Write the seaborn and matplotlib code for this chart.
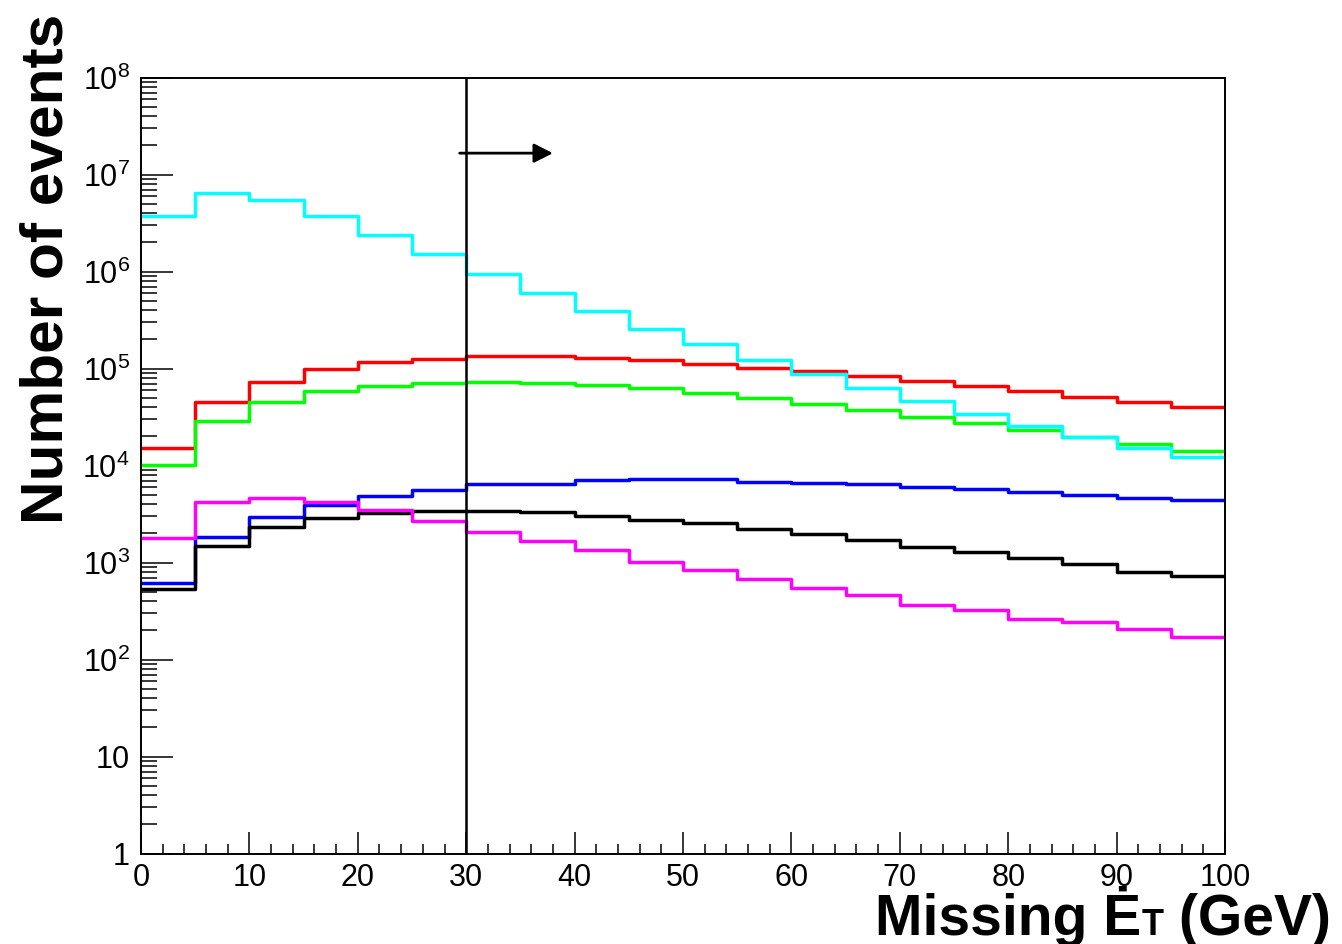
import numpy as np
import pandas as pd
import matplotlib
matplotlib.use("Agg")
import matplotlib.pyplot as plt
from matplotlib.ticker import LogLocator, MultipleLocator, FuncFormatter, NullFormatter
from matplotlib.offsetbox import TextArea, HPacker, AnchoredOffsetbox
import seaborn as sns

# Missing transverse energy binning (GeV)
bin_width = 5
met_min, met_max = 0, 100
met_cut = 30
arrow_start = 29.4
arrow_end = 38.0
arrow_level = 1.66e7

# Event counts per 5 GeV bin for each sample
cyan_counts = [3.7e6, 6.5e6, 5.4e6, 3.7e6, 2.4e6, 1.5e6, 9.5e5, 6.0e5, 3.9e5, 2.58e5,
               1.77e5, 1.22e5, 8.7e4, 6.3e4, 4.6e4, 3.4e4, 2.57e4, 1.96e4, 1.53e4, 1.21e4]
red_counts = [1.53e4, 4.5e4, 7.3e4, 9.8e4, 1.16e5, 1.26e5, 1.34e5, 1.34e5, 1.29e5, 1.21e5,
              1.12e5, 1.02e5, 9.4e4, 8.3e4, 7.4e4, 6.6e4, 5.8e4, 5.1e4, 4.5e4, 4.0e4]
green_counts = [1.02e4, 2.9e4, 4.5e4, 5.8e4, 6.6e4, 7.1e4, 7.3e4, 7.1e4, 6.7e4, 6.3e4,
                5.6e4, 5.0e4, 4.35e4, 3.75e4, 3.2e4, 2.73e4, 2.35e4, 1.97e4, 1.66e4, 1.42e4]
blue_counts = [622, 1.85e3, 2.98e3, 3.94e3, 4.87e3, 5.57e3, 6.37e3, 6.5e3, 7.1e3, 7.25e3,
               7.3e3, 6.8e3, 6.6e3, 6.4e3, 6.0e3, 5.7e3, 5.3e3, 5.0e3, 4.6e3, 4.4e3]
black_counts = [531, 1.48e3, 2.35e3, 2.86e3, 3.27e3, 3.41e3, 3.39e3, 3.31e3, 3.0e3, 2.77e3,
                2.57e3, 2.21e3, 1.96e3, 1.71e3, 1.45e3, 1.28e3, 1.12e3, 957, 789, 729]
magenta_counts = [1.78e3, 4.2e3, 4.6e3, 4.2e3, 3.44e3, 2.7e3, 2.06e3, 1.65e3, 1.33e3, 1.02e3,
                  828, 668, 549, 457, 368, 326, 263, 243, 207, 169]

x_tick_values = list(range(0, 101, 10))

sns.set_theme(style="ticks")
plt.rcParams["font.family"] = ["Liberation Sans", "DejaVu Sans"]
plt.rcParams["mathtext.fontset"] = "custom"
plt.rcParams["mathtext.rm"] = "Liberation Sans"
plt.rcParams["mathtext.bf"] = "Liberation Sans:bold"
for key in ["text.color", "axes.labelcolor", "xtick.color", "ytick.color", "axes.edgecolor"]:
    plt.rcParams[key] = "black"

W, H = 1342, 944
fig = plt.figure(figsize=(W / 100, H / 100), dpi=100)
fig.patch.set_facecolor("white")
ax = fig.add_axes([141 / W, 1 - 853.5 / H, 1084 / W, 776 / H])
ax.set_facecolor("white")

centers = np.arange(met_min, met_max, bin_width) + bin_width / 2
series = [
    (red_counts, "#ff0000"),
    (green_counts, "#00ff00"),
    (blue_counts, "#0000ff"),
    (black_counts, "#000000"),
    (magenta_counts, "#ff00ff"),
    (cyan_counts, "#00ffff"),
]
for counts, color in series:
    frame = pd.DataFrame({"met": centers, "events": counts})
    sns.histplot(data=frame, x="met", weights="events", binwidth=bin_width,
                 binrange=(met_min, met_max), element="step", fill=False,
                 color=color, linewidth=2.5, ax=ax)

ax.set_yscale("log")
ax.set_xlim(met_min, met_max)
ax.set_ylim(1, 1e8)

# Cut line and arrow marking the selected region
ax.axvline(met_cut, color="black", linewidth=1.8, zorder=5)
ax.annotate("", xy=(arrow_end, arrow_level), xytext=(arrow_start, arrow_level),
            arrowprops=dict(arrowstyle="-|>,head_length=1.15,head_width=0.58",
                            color="black", lw=2.0, shrinkA=0, shrinkB=0,
                            mutation_scale=10), zorder=6)

# Axis ticks
ax.set_xticks(x_tick_values)
ax.set_xticklabels([str(v) for v in x_tick_values])
ax.xaxis.set_minor_locator(MultipleLocator(2))
ax.yaxis.set_major_locator(LogLocator(base=10, numticks=20))
ax.yaxis.set_minor_locator(LogLocator(base=10, subs=np.arange(2, 10), numticks=200))
ax.yaxis.set_minor_formatter(NullFormatter())


def decade_label(v, pos):
    e = int(round(np.log10(v)))
    if e == 0:
        return "1"
    if e == 1:
        return "10"
    return r"$\mathregular{10^{%d}}$" % e


ax.yaxis.set_major_formatter(FuncFormatter(decade_label))

ax.tick_params(axis="both", which="both", direction="in", top=False, right=False,
               colors="black", labelcolor="black", labelsize=22, width=1.1)
ax.tick_params(axis="y", which="major", length=23, pad=8)
ax.tick_params(axis="y", which="minor", length=11.5)
ax.tick_params(axis="x", which="major", length=16, pad=6.5)
ax.tick_params(axis="x", which="minor", length=7.5)

for side in ["left", "right", "top", "bottom"]:
    ax.spines[side].set_visible(True)
    ax.spines[side].set_color("black")
    ax.spines[side].set_linewidth(1.4)

ax.set_xlabel("")
ax.set_ylabel("")

# x-axis title: large bold text with a small-capital T sitting on the baseline
label_style = dict(fontsize=41, fontweight="bold", color="black")
index_style = dict(fontsize=26, fontweight="bold", color="black")
title_parts = HPacker(
    children=[TextArea("Missing Ė", textprops=label_style),
              TextArea("T", textprops=index_style),
              TextArea(" (GeV)", textprops=label_style)],
    align="baseline", pad=0, sep=0)
title_box = AnchoredOffsetbox(loc="lower left", child=title_parts, pad=0, borderpad=0,
                              frameon=False, bbox_to_anchor=(875 / W, 1 - 947 / H),
                              bbox_transform=fig.transFigure)
fig.add_artist(title_box)

fig.text(47 / W, 1 - 269 / H, "Number of events", rotation=90, fontsize=43.5,
         fontweight="bold", color="black", ha="center", va="center")

fig.savefig("out.png", dpi=100, facecolor="white")
